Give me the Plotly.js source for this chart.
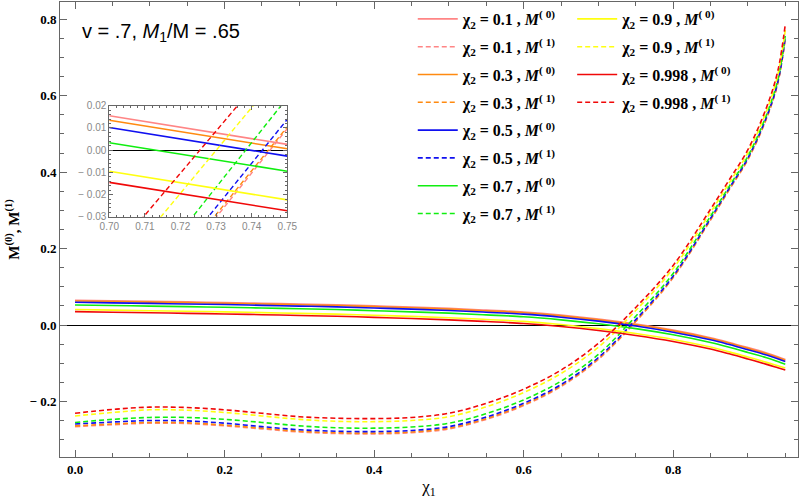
<!DOCTYPE html>
<html>
<head>
<meta charset="utf-8">
<script src="https://cdn.plot.ly/plotly-3.0.1.min.js"></script>
<style>
  html, body { margin: 0; padding: 0; background: #fff; }
  #plot { width: 800px; height: 499px; }
</style>
</head>
<body>
<div id="plot"></div>
<script>
'use strict';

// chi_1 grid
const chi1 = [0, 0.05, 0.1, 0.15, 0.2, 0.25, 0.3, 0.35, 0.4, 0.45, 0.5, 0.55, 0.6, 0.65,
  0.7, 0.75, 0.8, 0.85, 0.875, 0.9, 0.925, 0.94, 0.95];

// M(0) solid curves
const pink0 = [0.065, 0.0635, 0.062, 0.0605, 0.059, 0.057, 0.055, 0.053, 0.050, 0.047, 0.0435, 0.039, 0.034, 0.026,
  0.0155, 0.0026, -0.0133, -0.0332, -0.0456, -0.0592, -0.0732, -0.0828, -0.0905];
const orange0 = [0.063, 0.0615, 0.060, 0.0585, 0.057, 0.055, 0.053, 0.051, 0.048, 0.045, 0.0415, 0.037, 0.032, 0.024,
  0.0135, 0.0006, -0.0153, -0.0352, -0.0476, -0.0612, -0.0752, -0.0848, -0.0925];
const blue0 = [0.0595, 0.058, 0.0565, 0.055, 0.0535, 0.0515, 0.0495, 0.0475, 0.0445, 0.0415, 0.038, 0.0335, 0.0285, 0.0205,
  0.0102, -0.0027, -0.0188, -0.0388, -0.0512, -0.0648, -0.0788, -0.0885, -0.0955];
const green0 = [0.0525, 0.051, 0.0495, 0.048, 0.0465, 0.0445, 0.0425, 0.0405, 0.0375, 0.0345, 0.031, 0.0265, 0.0215, 0.0135,
  0.0033, -0.0095, -0.0257, -0.0458, -0.0582, -0.0718, -0.0858, -0.0955, -0.1025];
const yellow0 = [0.0405, 0.039, 0.0375, 0.036, 0.0345, 0.0325, 0.0305, 0.0285, 0.0255, 0.0225, 0.019, 0.0145, 0.0095, 0.0015,
  -0.0095, -0.0224, -0.0378, -0.0578, -0.0703, -0.0838, -0.0978, -0.1068, -0.1128];
const red0 = [0.035, 0.0335, 0.032, 0.0305, 0.029, 0.027, 0.025, 0.023, 0.020, 0.017, 0.0135, 0.009, 0.004, -0.004,
  -0.0145, -0.0273, -0.043, -0.063, -0.0755, -0.089, -0.103, -0.112, -0.118];

// M(1) dashed curves
const pink1 = [-0.266, -0.261, -0.257, -0.258, -0.264, -0.272, -0.280, -0.284, -0.285, -0.282, -0.272, -0.247, -0.211, -0.161,
  -0.090, 0.009, 0.124, 0.275, 0.354, 0.433, 0.541, 0.633, 0.751];
const orange1 = [-0.264, -0.259, -0.255, -0.256, -0.262, -0.270, -0.278, -0.282, -0.283, -0.280, -0.270, -0.245, -0.209, -0.159,
  -0.088, 0.010, 0.125, 0.276, 0.355, 0.434, 0.542, 0.634, 0.752];
const blue1 = [-0.259, -0.254, -0.250, -0.251, -0.257, -0.266, -0.274, -0.278, -0.279, -0.276, -0.266, -0.241, -0.205, -0.156,
  -0.085, 0.014, 0.128, 0.279, 0.358, 0.437, 0.545, 0.636, 0.754];
const green1 = [-0.255, -0.247, -0.242, -0.242, -0.247, -0.255, -0.264, -0.269, -0.270, -0.267, -0.257, -0.232, -0.196, -0.147,
  -0.077, 0.023, 0.135, 0.285, 0.363, 0.442, 0.551, 0.643, 0.758];
const yellow1 = [-0.238, -0.229, -0.222, -0.223, -0.229, -0.238, -0.247, -0.252, -0.253, -0.250, -0.240, -0.214, -0.177, -0.127,
  -0.058, 0.038, 0.148, 0.295, 0.372, 0.451, 0.561, 0.655, 0.772];
const red1 = [-0.231, -0.221, -0.215, -0.216, -0.222, -0.231, -0.240, -0.244, -0.245, -0.242, -0.231, -0.205, -0.168, -0.118,
  -0.048, 0.046, 0.156, 0.303, 0.380, 0.459, 0.570, 0.665, 0.787];

// inset: same curves between chi_1 = 0.70 and 0.75
const insetX = [0.70, 0.75];
const inPink0 = [0.0155, 0.0026];
const inOrange0 = [0.0135, 0.0006];
const inBlue0 = [0.0102, -0.0027];
const inGreen0 = [0.0033, -0.0095];
const inYellow0 = [-0.0095, -0.0224];
const inRed0 = [-0.0145, -0.0273];
const inPink1 = [-0.0902, 0.0097];
const inOrange1 = [-0.0883, 0.0105];
const inBlue1 = [-0.0851, 0.0139];
const inGreen1 = [-0.0772, 0.0236];
const inYellow1 = [-0.0580, 0.0385];
const inRed1 = [-0.0482, 0.0465];

const chi2Labels = ['0.1', '0.3', '0.5', '0.7', '0.9', '0.998'];
const colors = ['#ff8585', '#ff8a10', '#1010f0', '#10ee10', '#ffff10', '#f00808'];

const mainTicks = [-0.2, 0, 0.2, 0.4, 0.6, 0.8];
const mainTickText = ['\u2212 0.2', '0.0', '0.2', '0.4', '0.6', '0.8'];
const xTicks = [0, 0.2, 0.4, 0.6, 0.8];
const xTickText = ['0.0', '0.2', '0.4', '0.6', '0.8'];
const insetYTicks = [-0.03, -0.02, -0.01, 0, 0.01, 0.02];
const insetYText = ['\u2212 0.03', '\u2212 0.02', '\u2212 0.01', '0.00', '0.01', '0.02'];
const insetXTicks = [0.70, 0.71, 0.72, 0.73, 0.74, 0.75];
const insetXText = ['0.70', '0.71', '0.72', '0.73', '0.74', '0.75'];

const mainM0 = [pink0, orange0, blue0, green0, yellow0, red0];
const mainM1 = [pink1, orange1, blue1, green1, yellow1, red1];
const insM0 = [inPink0, inOrange0, inBlue0, inGreen0, inYellow0, inRed0];
const insM1 = [inPink1, inOrange1, inBlue1, inGreen1, inYellow1, inRed1];

const dashPat = '5px,3px';
const data = [];

chi2Labels.forEach(function(lab, i) {
  const leg = i < 4 ? 'legend' : 'legend2';
  data.push({
    x: chi1, y: mainM0[i], type: 'scatter', mode: 'lines',
    line: {color: colors[i], width: 1.6, shape: 'spline', smoothing: 1},
    name: '\u03c7<sub>2</sub> = ' + lab + ' , <i>M</i><sup>( 0)</sup>',
    legend: leg, legendgroup: 'a' + i, hoverinfo: 'skip'
  });
  data.push({
    x: chi1, y: mainM1[i], type: 'scatter', mode: 'lines',
    line: {color: colors[i], width: 1.6, dash: dashPat, shape: 'spline', smoothing: 1},
    name: '\u03c7<sub>2</sub> = ' + lab + ' , <i>M</i><sup>( 1)</sup>',
    legend: leg, legendgroup: 'b' + i, hoverinfo: 'skip'
  });
});

chi2Labels.forEach(function(lab, i) {
  data.push({
    x: insetX, y: insM0[i], type: 'scatter', mode: 'lines', xaxis: 'x2', yaxis: 'y2',
    line: {color: colors[i], width: 1.6}, showlegend: false, hoverinfo: 'skip'
  });
  data.push({
    x: insetX, y: insM1[i], type: 'scatter', mode: 'lines', xaxis: 'x2', yaxis: 'y2',
    line: {color: colors[i], width: 1.4, dash: dashPat}, showlegend: false, hoverinfo: 'skip'
  });
});

const frame = '#666666';
const serifBold = {family: 'Liberation Serif, DejaVu Serif, serif', size: 13, color: '#000', weight: 'bold'};
const legendFont = {family: 'Liberation Serif, DejaVu Serif, serif', size: 16, color: '#000', weight: 'bold'};
const insetFont = {family: 'Liberation Sans, Arial, sans-serif', size: 10, color: '#888888'};

const layout = {
  width: 800,
  height: 499,
  margin: {l: 60, r: 2, t: 2, b: 42},
  paper_bgcolor: '#fff',
  plot_bgcolor: '#fff',
  showlegend: true,
  xaxis: {
    range: [-0.0201, 0.967],
    tickmode: 'array', tickvals: xTicks, ticktext: xTickText,
    ticks: 'inside', ticklen: 7, tickcolor: frame,
    minor: {tickmode: 'linear', tick0: 0, dtick: 0.05, ticks: 'inside', ticklen: 4, tickcolor: frame},
    showline: true, linecolor: frame, linewidth: 1, mirror: 'ticks',
    showgrid: false, zeroline: false,
    tickfont: serifBold,
    title: {text: '\u03c7<sub>1</sub>', font: {family: 'Liberation Serif, serif', size: 17, color: '#000'}, standoff: 13}
  },
  yaxis: {
    range: [-0.3455, 0.8455],
    tickmode: 'array', tickvals: mainTicks, ticktext: mainTickText,
    ticks: 'inside', ticklen: 7, tickcolor: frame,
    minor: {tickmode: 'linear', tick0: 0, dtick: 0.05, ticks: 'inside', ticklen: 4, tickcolor: frame},
    showline: true, linecolor: frame, linewidth: 1, mirror: 'ticks',
    showgrid: false, zeroline: true, zerolinecolor: '#000', zerolinewidth: 1,
    tickfont: serifBold,
    title: {text: 'M<sup>(0)</sup>, M<sup>(1)</sup>',
      font: {family: 'Liberation Serif, DejaVu Serif, serif', size: 15, color: '#000', weight: 'bold'}, standoff: 6}
  },
  xaxis2: {
    domain: [0.0668, 0.308], anchor: 'y2',
    range: [0.70, 0.75],
    tickmode: 'array', tickvals: insetXTicks, ticktext: insetXText,
    ticks: 'inside', ticklen: 4, tickcolor: frame,
    minor: {tickmode: 'linear', tick0: 0.7, dtick: 0.002, ticks: 'inside', ticklen: 2, tickcolor: frame},
    showline: true, linecolor: frame, linewidth: 1, mirror: 'ticks',
    showgrid: false, zeroline: false, tickfont: insetFont
  },
  yaxis2: {
    domain: [0.528, 0.772], anchor: 'x2',
    range: [-0.03, 0.02],
    tickmode: 'array', tickvals: insetYTicks, ticktext: insetYText,
    ticks: 'inside', ticklen: 4, tickcolor: frame,
    minor: {tickmode: 'linear', tick0: 0, dtick: 0.002, ticks: 'inside', ticklen: 2, tickcolor: frame},
    showline: true, linecolor: frame, linewidth: 1, mirror: 'ticks',
    showgrid: false, zeroline: true, zerolinecolor: '#000', zerolinewidth: 1,
    tickfont: insetFont
  },
  legend: {
    x: 0.478, y: 1.0, xanchor: 'left', yanchor: 'top',
    bgcolor: 'rgba(0,0,0,0)', borderwidth: 0,
    font: legendFont, itemwidth: 40,
    traceorder: 'grouped', tracegroupgap: 4
  },
  legend2: {
    x: 0.694, y: 1.0, xanchor: 'left', yanchor: 'top',
    bgcolor: 'rgba(0,0,0,0)', borderwidth: 0,
    font: legendFont, itemwidth: 40,
    traceorder: 'grouped', tracegroupgap: 4
  },
  annotations: [{
    xref: 'paper', yref: 'paper', x: 0.027, y: 0.932,
    xanchor: 'left', yanchor: 'middle', showarrow: false,
    text: 'v = .7, <i>M</i><sub>1</sub>/M = .65',
    font: {family: 'Liberation Sans, Arial, sans-serif', size: 20, color: '#000'}
  }]
};

Plotly.newPlot('plot', data, layout, {staticPlot: true});
</script>
</body>
</html>
